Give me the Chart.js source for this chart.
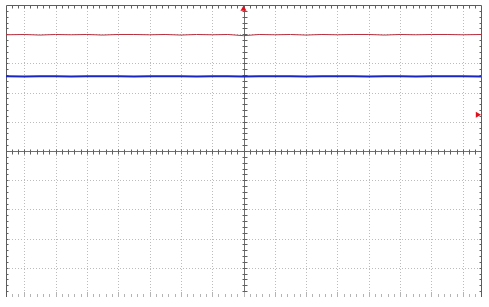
<!DOCTYPE html>
<html>
<head>
<meta charset="utf-8">
<script src="https://cdn.jsdelivr.net/npm/chart.js@4/dist/chart.umd.min.js"></script>
<style>
  html, body { margin: 0; padding: 0; background: #fff; }
  #wrap { width: 489px; height: 307px; }
</style>
</head>
<body>
<div id="wrap"><canvas id="scope"></canvas></div>
<script>
// time axis in divisions, trace levels in divisions
const timeDivs = [-7.58, -7, -6.5, -6, -5.5, -5, -4.5, -4, -3.5, -3, -2.5, -2, -1.5, -1, -0.5, 0,
                  0.5, 1, 1.5, 2, 2.5, 3, 3.5, 4, 4.5, 5, 5.5, 6, 6.5, 7, 7.58];
const ch1 = [3.98, 3.99, 3.97, 3.99, 3.98, 3.99, 3.97, 3.99, 3.99, 3.98, 3.99, 3.97, 3.99, 3.98, 3.99, 3.95,
             3.99, 3.98, 3.99, 3.97, 3.99, 3.98, 3.99, 3.99, 3.97, 3.99, 3.98, 3.99, 3.99, 3.98, 3.99];
const ch2 = [2.56, 2.55, 2.56, 2.56, 2.55, 2.56, 2.56, 2.56, 2.55, 2.56, 2.56, 2.56, 2.55, 2.56, 2.56, 2.55,
             2.56, 2.56, 2.56, 2.55, 2.56, 2.56, 2.56, 2.55, 2.56, 2.56, 2.55, 2.56, 2.56, 2.56, 2.55];
const triggerPos = 0;      // horizontal trigger position (div)
const triggerLevel = 1.24; // trigger level marker (div)

const xMin = -7.58, xMax = 7.58, yMin = -5, yMax = 5;

// graticule: dotted grid, solid centre axes with minor ticks, border ticks
const graticule = {
  id: 'graticule',
  beforeDatasetsDraw(chart) {
    const { ctx, chartArea: a, scales: { x, y } } = chart;
    ctx.save();
    ctx.lineWidth = 1;
    ctx.strokeStyle = '#bcbcbc';
    ctx.setLineDash([1, 2]);
    for (let i = -7; i <= 7; i++) {
      if (i === 0) continue;
      const px = Math.round(x.getPixelForValue(i)) + 0.5;
      ctx.beginPath(); ctx.moveTo(px, a.top); ctx.lineTo(px, a.bottom); ctx.stroke();
    }
    for (let j = -4; j <= 4; j++) {
      if (j === 0) continue;
      const py = Math.round(y.getPixelForValue(j)) + 0.5;
      ctx.beginPath(); ctx.moveTo(a.left, py); ctx.lineTo(a.right, py); ctx.stroke();
    }
    ctx.setLineDash([]);

    // centre axes
    const cx = Math.round(x.getPixelForValue(0)) + 0.5;
    const cy = Math.round(y.getPixelForValue(0)) + 0.5;
    ctx.strokeStyle = '#707070';
    ctx.beginPath();
    ctx.moveTo(a.left, cy); ctx.lineTo(a.right, cy);
    ctx.moveTo(cx, a.top); ctx.lineTo(cx, a.bottom);
    ctx.stroke();

    // border: left, top, right
    const L = Math.round(a.left) + 0.5, T = Math.round(a.top) + 0.5, R = Math.round(a.right) + 0.5;
    ctx.strokeStyle = '#5c5c5c';
    ctx.beginPath();
    ctx.moveTo(L, a.bottom); ctx.lineTo(L, T); ctx.lineTo(R, T); ctx.lineTo(R, a.bottom);
    ctx.stroke();

    // minor ticks every 0.2 div
    ctx.strokeStyle = '#606060';
    ctx.beginPath();
    for (let k = Math.ceil(xMin * 5); k <= Math.floor(xMax * 5); k++) {
      const px = Math.round(x.getPixelForValue(k / 5)) + 0.5;
      ctx.moveTo(px, T); ctx.lineTo(px, T + 3);
      ctx.moveTo(px, cy - 2); ctx.lineTo(px, cy + 3);
    }
    for (let k = yMin * 5 + 1; k < yMax * 5; k++) {
      const py = Math.round(y.getPixelForValue(k / 5)) + 0.5;
      ctx.moveTo(L, py); ctx.lineTo(L + 2, py);
      ctx.moveTo(R, py); ctx.lineTo(R - 2, py);
      ctx.moveTo(cx - 2, py); ctx.lineTo(cx + 3, py);
    }
    ctx.stroke();

    // bottom ticks (no bottom border line)
    ctx.strokeStyle = '#b4b4b4';
    ctx.beginPath();
    for (let k = Math.ceil(xMin * 5); k <= Math.floor(xMax * 5); k++) {
      const px = Math.round(x.getPixelForValue(k / 5)) + 0.5;
      const major = k % 5 === 0;
      ctx.moveTo(px, a.bottom); ctx.lineTo(px, a.bottom - (major ? 5 : 3));
    }
    ctx.stroke();
    ctx.restore();
  }
};

new Chart(document.getElementById('scope'), {
  type: 'line',
  data: {
    datasets: [
      {
        label: 'CH1',
        data: timeDivs.map((t, i) => ({ x: t, y: ch1[i] })),
        borderColor: '#b8303e',
        borderWidth: 1,
        pointRadius: 0,
        tension: 0
      },
      {
        label: 'CH2',
        data: timeDivs.map((t, i) => ({ x: t, y: ch2[i] })),
        borderColor: '#1a26c4',
        borderWidth: 2,
        pointRadius: 0,
        tension: 0
      },
      {
        label: 'trigger position',
        data: [{ x: triggerPos, y: 4.86 }],
        showLine: false,
        pointStyle: 'triangle',
        pointRadius: 3.5,
        pointBackgroundColor: '#e0101c',
        pointBorderColor: '#e0101c',
        pointBorderWidth: 0,
        clip: false
      },
      {
        label: 'trigger level',
        data: [{ x: 7.47, y: triggerLevel }],
        showLine: false,
        pointStyle: 'triangle',
        pointRotation: 90,
        pointRadius: 3.5,
        pointBackgroundColor: '#e0101c',
        pointBorderColor: '#e0101c',
        pointBorderWidth: 0,
        clip: false
      }
    ]
  },
  options: {
    responsive: true,
    maintainAspectRatio: false,
    animation: false,
    events: [],
    layout: { autoPadding: false, padding: { left: 6, top: 5, right: 8, bottom: 10 } },
    plugins: { legend: { display: false }, tooltip: { enabled: false } },
    scales: {
      x: { type: 'linear', min: xMin, max: xMax, display: false },
      y: { type: 'linear', min: yMin, max: yMax, display: false }
    }
  },
  plugins: [graticule]
});
</script>
</body>
</html>
